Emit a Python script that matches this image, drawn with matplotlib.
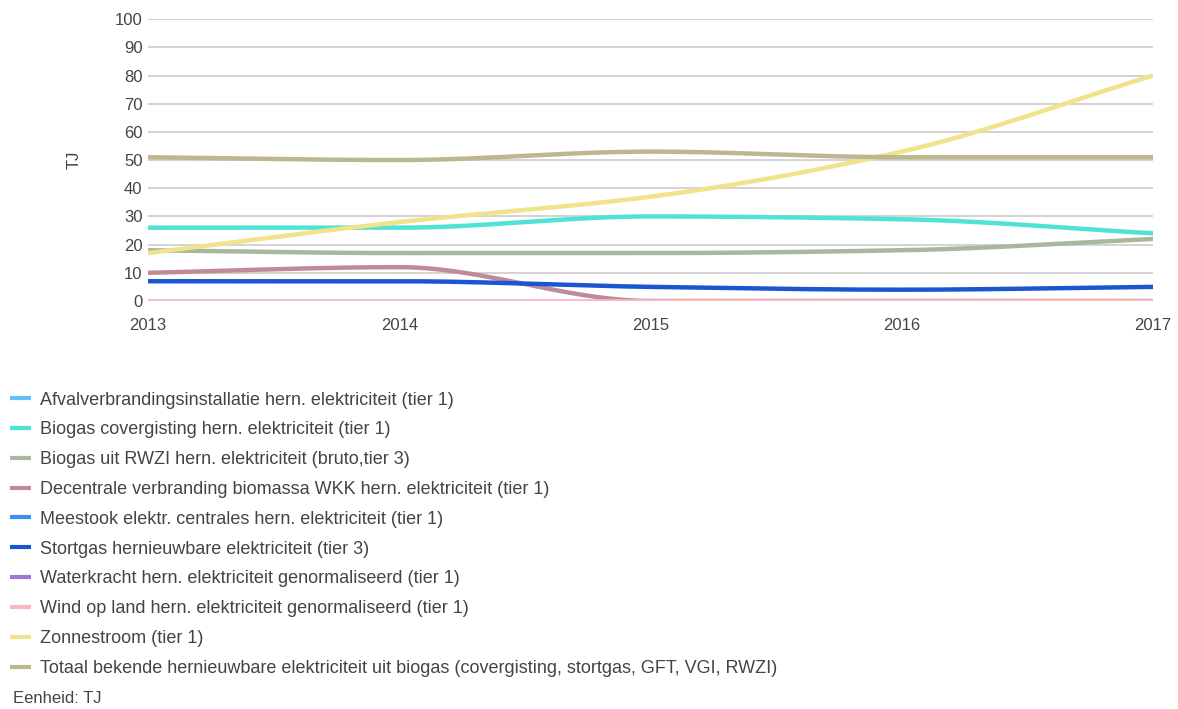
import matplotlib
matplotlib.use("Agg")
import matplotlib.pyplot as plt
import numpy as np

plt.rcParams["font.family"] = ["Liberation Sans", "DejaVu Sans"]

years = [2013, 2014, 2015, 2016, 2017]

series_names = [
    "Afvalverbrandingsinstallatie hern. elektriciteit (tier 1)",
    "Biogas covergisting hern. elektriciteit (tier 1)",
    "Biogas uit RWZI hern. elektriciteit (bruto,tier 3)",
    "Decentrale verbranding biomassa WKK hern. elektriciteit (tier 1)",
    "Meestook elektr. centrales hern. elektriciteit (tier 1)",
    "Stortgas hernieuwbare elektriciteit (tier 3)",
    "Waterkracht hern. elektriciteit genormaliseerd (tier 1)",
    "Wind op land hern. elektriciteit genormaliseerd (tier 1)",
    "Zonnestroom (tier 1)",
    "Totaal bekende hernieuwbare elektriciteit uit biogas (covergisting, stortgas, GFT, VGI, RWZI)",
]

# series without values in the chart are left empty (nan)
nan = float("nan")
afval = [nan, nan, nan, nan, nan]
covergisting = [26, 26, 30, 29, 24]
rwzi = [18, 17, 17, 18, 22]
decentrale = [10, 12, 0, 0, 0]
meestook = [nan, nan, nan, nan, nan]
stortgas = [7, 7, 5, 4, 5]
waterkracht = [nan, nan, nan, nan, nan]
wind = [0, 0, 0, 0, 0]
zon = [17, 28, 37, 53, 80]
totaal = [51, 50, 53, 51, 51]

series_values = [afval, covergisting, rwzi, decentrale, meestook,
                 stortgas, waterkracht, wind, zon, totaal]

colors = ["#5ec4f5", "#4fe3d6", "#a9b89b", "#c08a9b", "#3d8ff2",
          "#1a55d2", "#a274dc", "#f7b9c2", "#f1e28c", "#bcb78c"]
widths = [3.2, 3.2, 3.2, 3.2, 3.2, 3.2, 3.2, 3.4, 3.2, 3.2]

y_ticks = list(range(0, 101, 10))


def smooth(x, y, n=200):
    # monotone cubic (Fritsch-Carlson) for a Google-like curved line
    x = np.asarray(x, float)
    y = np.asarray(y, float)
    h = np.diff(x)
    d = np.diff(y) / h
    m = np.zeros_like(y)
    m[0], m[-1] = d[0], d[-1]
    for i in range(1, len(y) - 1):
        if d[i - 1] * d[i] > 0:
            m[i] = 2 / (1 / d[i - 1] + 1 / d[i])
    xs, ys = [], []
    for i in range(len(h)):
        t = np.linspace(0, 1, n)
        h00 = 2 * t**3 - 3 * t**2 + 1
        h10 = t**3 - 2 * t**2 + t
        h01 = -2 * t**3 + 3 * t**2
        h11 = t**3 - t**2
        xs.append(x[i] + t * h[i])
        ys.append(h00 * y[i] + h10 * h[i] * m[i] + h01 * y[i + 1] + h11 * h[i] * m[i + 1])
    return np.concatenate(xs), np.concatenate(ys)


fig = plt.figure(figsize=(11.78, 7.09), dpi=100)
ax = fig.add_axes([0.1256, 0.5755, 0.8532, 0.3975])

handles = []
for name, vals, c, lw in zip(series_names, series_values, colors, widths):
    xs, ys = smooth(years, vals)
    (ln,) = ax.plot(xs, ys, color=c, lw=lw, solid_capstyle="butt", label=name)
    handles.append(ln)

ax.set_xlim(2013, 2017)
ax.set_ylim(0, 100)
ax.set_yticks(y_ticks)
ax.set_xticks(years)
ax.set_xticklabels([str(y) for y in years])
ax.grid(axis="y", color="#cccccc", lw=1.2)
ax.set_axisbelow(True)
for s in ax.spines.values():
    s.set_visible(False)
ax.tick_params(length=0, labelsize=12, colors="#444444")
ax.tick_params(axis="x", pad=12)
ax.tick_params(axis="y", pad=4)
ax.set_ylabel("TJ", fontsize=12, color="#444444", labelpad=24)

leg = fig.legend(handles=handles, loc="upper left", bbox_to_anchor=(0.002, 0.458),
                 frameon=False, fontsize=13, handlelength=1.2, handletextpad=0.5,
                 labelspacing=0.71, borderaxespad=0)
for t in leg.get_texts():
    t.set_color("#444444")
for l in leg.get_lines():
    l.set_linewidth(3)

fig.text(0.011, 0.008, "Eenheid: TJ", fontsize=12, color="#444444")

fig.savefig("out.png", dpi=100)
